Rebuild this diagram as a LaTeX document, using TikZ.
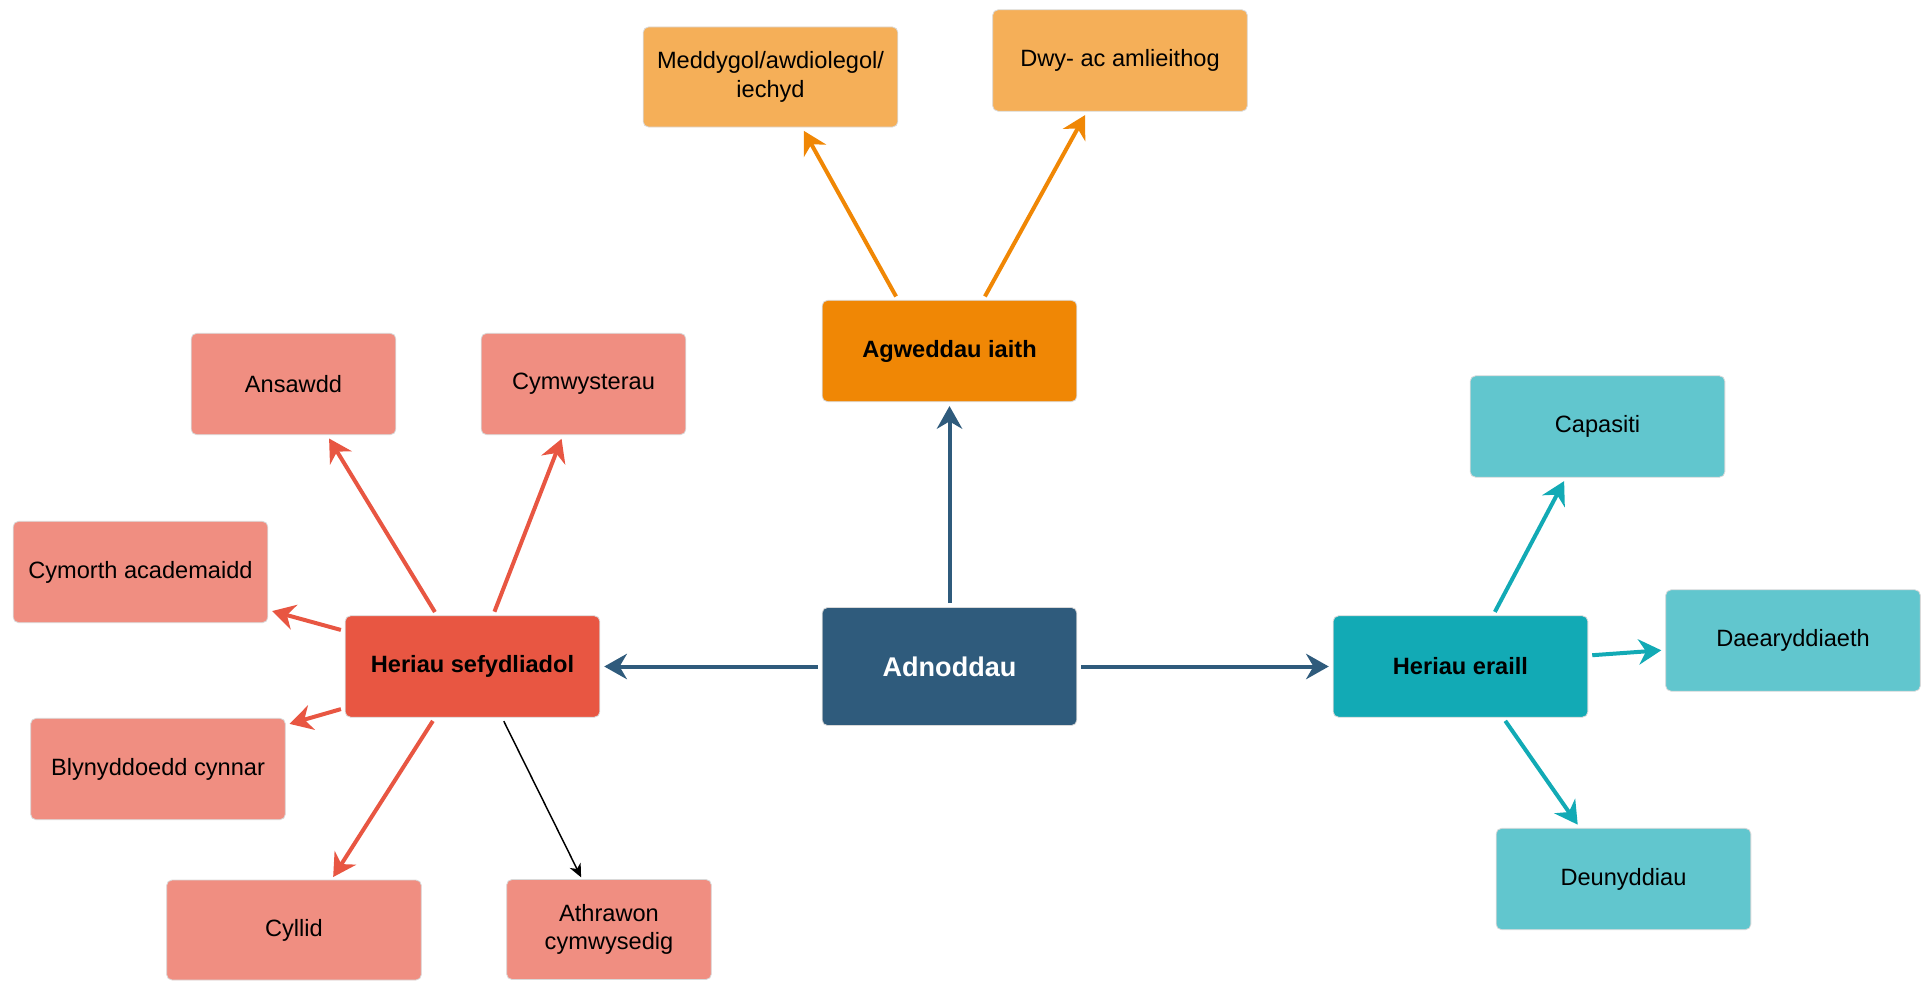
\documentclass[tikz,border=0pt]{standalone}
\usepackage{fontspec}
\setmainfont{Liberation Sans}
\usetikzlibrary{arrows.meta,calc}
\definecolor{ColA}{RGB}{47,91,124}
\definecolor{ColB}{RGB}{240,135,5}
\definecolor{ColBl}{RGB}{245,175,88}
\definecolor{ColC}{RGB}{232,86,66}
\definecolor{ColCl}{RGB}{240,142,129}
\definecolor{ColD}{RGB}{18,170,181}
\definecolor{ColDl}{RGB}{97,198,206}
\tikzstyle{Box}=[rectangle,rounded corners=4pt,draw=black!15,line width=0.6pt,inner sep=2pt,
minimum width=191pt,minimum height=76pt,align=center,font=\fontsize{17.7}{21.5}\selectfont]
\tikzstyle{BoxHead}=[Box,font=\fontsize{17.7}{21.5}\selectfont\bfseries]
\tikzstyle{BoxSmall}=[Box,minimum width=153.5pt]
\tikzstyle{EdgeBase}=[line width=3pt,-{Stealth[length=17pt,width=19pt,inset=5.5pt]},
shorten <=3pt,shorten >=3pt]
\tikzstyle{EdgeA}=[EdgeBase,ColA]
\tikzstyle{EdgeB}=[EdgeBase,ColB]
\tikzstyle{EdgeC}=[EdgeBase,ColC]
\tikzstyle{EdgeD}=[EdgeBase,ColD]
\tikzstyle{EdgeThin}=[black,line width=1.1pt,-{Stealth[length=10pt,width=9pt,inset=3pt]},
shorten <=3pt,shorten >=1.5pt]
\begin{document}
\begin{tikzpicture}[x=0.75pt,y=-0.75pt]
        \useasboundingbox(0,0)rectangle(1921,981);
        \node[Box,fill=ColA,text=white,minimum height=88.5pt,
          font=\fontsize{20.3}{24}\selectfont\bfseries](adn)at(949.5,666.5){Adnoddau};
        \node[BoxHead,fill=ColB](agw)at(949.5,351){Agweddau iaith};
        \node[Box,fill=ColBl,minimum height=75pt](med)at(770.5,77){Meddygol/awdiolegol/\\iechyd};
        \node[Box,fill=ColBl](dwy)at(1120,60.5){Dwy- ac amlieithog};
        \node[BoxHead,fill=ColC](hsef)at(472.5,666.5){Heriau sefydliadol};
        \node[BoxSmall,fill=ColCl](ans)at(293.5,384){Ansawdd};
        \node[BoxSmall,fill=ColCl](cym)at(583.5,384){Cymwysterau};
        \node[Box,fill=ColCl](cyma)at(140.5,572){Cymorth academaidd};
        \node[Box,fill=ColCl](bly)at(158,769){Blynyddoedd cynnar};
        \node[Box,fill=ColCl,minimum height=75pt](cyl)at(294,930){Cyllid};
        \node[BoxSmall,fill=ColCl,minimum height=75pt](ath)at(609,929.5){Athrawon\\cymwysedig};
        \node[BoxHead,fill=ColD](her)at(1460.5,666.5){Heriau eraill};
        \node[Box,fill=ColDl](cap)at(1597.5,426.5){Capasiti};
        \node[Box,fill=ColDl](dae)at(1793,640.5){Daearyddiaeth};
        \node[Box,fill=ColDl](deu)at(1623.5,879){Deunyddiau};
        \draw[EdgeA](adn)--(agw);
        \draw[EdgeA](adn)--(hsef);
        \draw[EdgeA](adn)--(her);
        \draw[EdgeB]($(agw.north)+(-51.5,0)$)--($(med.south)+(31.5,0)$);
        \draw[EdgeB]($(agw.north)+(33.5,0)$)--($(dwy.south)+(-33,0)$);
        \draw[EdgeC]($(hsef.north)+(-35.5,0)$)--($(ans.south)+(33.5,0)$);
        \draw[EdgeC]($(hsef.north)+(20.5,0)$)--($(cym.south)+(-20.5,0)$);
        \draw[EdgeC]($(hsef.west)+(0,-35.5)$)--($(cyma.east)+(0,38)$);
        \draw[EdgeC]($(hsef.west)+(0,41.5)$)--($(bly.east)+(0,-44)$);
        \draw[EdgeC]($(hsef.south)+(-37.5,0)$)--($(cyl.south)+(37,-100)$);
        \draw[EdgeThin]($(hsef.south)+(29.5,0)$)--($(ath.north)+(-27,0)$);
        \draw[EdgeD]($(her.north)+(32.5,0)$)--($(cap.south)+(-31.5,0)$);
        \draw[EdgeD]($(her.east)+(0,-11)$)--($(dae.west)+(0,9.5)$);
        \draw[EdgeD]($(her.south)+(42.5,0)$)--($(deu.north)+(-43.5,0)$);
    \end{tikzpicture}
\end{document}
